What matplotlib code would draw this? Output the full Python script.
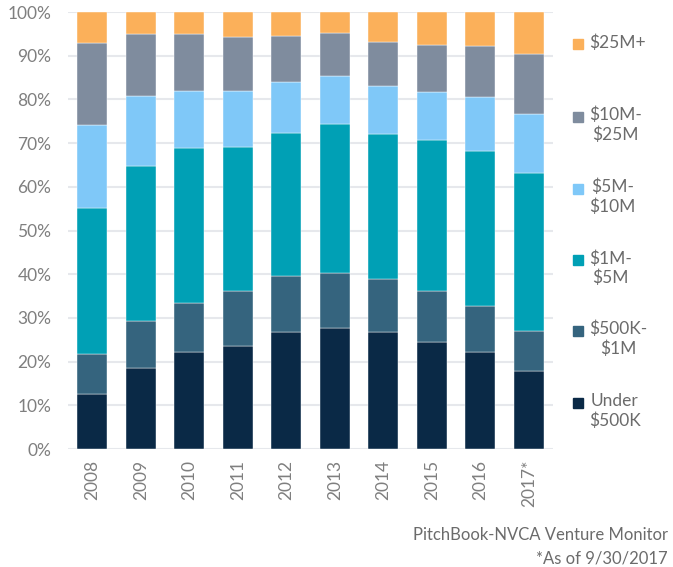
import numpy as np
import matplotlib
matplotlib.use("Agg")
import matplotlib.pyplot as plt
from matplotlib.patches import Rectangle

plt.rcParams['font.family'] = ['Lato', 'DejaVu Sans']

years = ['2008', '2009', '2010', '2011', '2012', '2013', '2014', '2015', '2016', '2017*']
labels = ['Under\n$500K', '$500K-\n$1M', '$1M-\n$5M', '$5M-\n$10M', '$10M-\n$25M', '$25M+']
colors = ['#0a2946', '#35647e', '#00a0b5', '#7fc8f8', '#7f8c9e', '#fbb05a']

# share of deal count (%), bottom to top
under_500k = [12.7, 18.6, 22.2, 23.5, 26.7, 27.6, 26.7, 24.6, 22.2, 17.9]
k500_1m    = [9.0, 10.8, 11.1, 12.6, 12.9, 12.7, 12.2, 11.6, 10.6, 9.2]
m1_5m      = [33.5, 35.3, 35.6, 33.1, 32.8, 34.1, 33.2, 34.4, 35.5, 36.0]
m5_10m     = [19.0, 16.1, 13.1, 12.8, 11.7, 11.0, 10.9, 11.0, 12.3, 13.6]
m10_25m    = [18.6, 14.1, 12.9, 12.2, 10.3, 9.7, 10.1, 10.8, 11.6, 13.6]
m25_plus   = [7.2, 5.1, 5.1, 5.8, 5.6, 4.9, 6.9, 7.6, 7.8, 9.7]

series = [under_500k, k500_1m, m1_5m, m5_10m, m10_25m, m25_plus]

fig = plt.figure(figsize=(6.73, 5.67), dpi=100)
ax = fig.add_axes([0.101, 0.2081, 0.7207, 0.7707])

x = np.arange(len(years))
bottom = np.zeros(len(years))
for vals, c in zip(series, colors):
    vals = np.array(vals)
    ax.bar(x, vals, 0.62, bottom=bottom, color=c, edgecolor='white', linewidth=0.3, zorder=3)
    bottom += vals

ax.set_ylim(0, 100)
ax.set_xlim(-0.5, len(years) - 0.5)
ax.set_yticks(np.arange(0, 101, 10))
ax.set_yticklabels(['%d%%' % v for v in range(0, 101, 10)])
ax.set_xticks(x)
ax.set_xticklabels(years, rotation=90)
ax.tick_params(axis='both', length=0, labelsize=12.5, colors='#7f7f7f')
ax.tick_params(axis='y', pad=12)
ax.tick_params(axis='x', pad=8)
ax.grid(axis='y', color='#e6e8ec', linewidth=1.5, zorder=0)
for s in ax.spines.values():
    s.set_visible(False)

# legend, top entry first (pixel rows of the first text line)
leg_y = [44, 117, 189, 260, 331, 403]
for lab, c, py in zip(labels[::-1], colors[::-1], leg_y):
    fig.patches.append(Rectangle((573 / 673, 1 - (py + 5) / 567), 10 / 673, 10 / 567,
                                 transform=fig.transFigure, color=c, figure=fig))
    fig.text(589 / 673, 1 - (py - 10) / 567, lab, ha='left', va='top',
             multialignment='center', fontsize=12.5, color='#6b6b6b', linespacing=1.25)

fig.text(668 / 673, 1 - 535 / 567, 'PitchBook-NVCA Venture Monitor',
         ha='right', va='center', fontsize=12, color='#6b6b6b')
fig.text(668 / 673, 1 - 558 / 567, '*As of 9/30/2017',
         ha='right', va='center', fontsize=12, color='#6b6b6b')

fig.savefig('out.png', dpi=100)
